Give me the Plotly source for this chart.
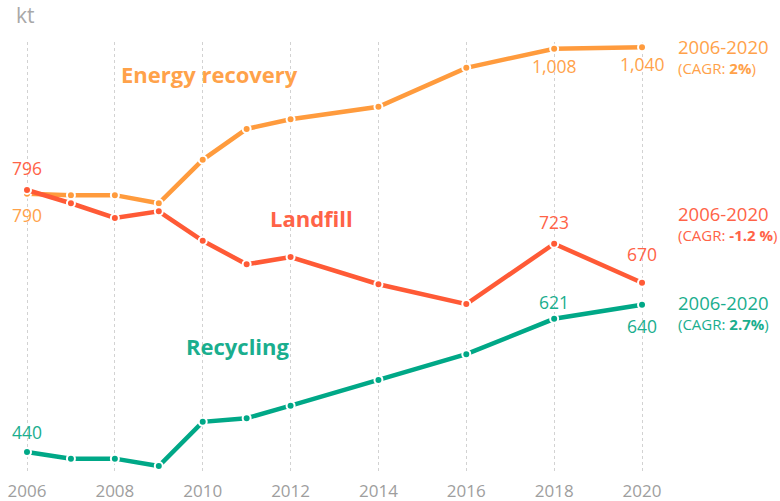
import plotly.graph_objects as go

years = [2006, 2007, 2008, 2009, 2010, 2011, 2012, 2014, 2016, 2018, 2020]
energy_recovery = [791, 789, 789, 778, 837, 879, 892, 909, 962, 988, 990]
landfill = [796, 778, 758, 767, 727, 695, 705, 668, 641, 723, 670]
recycling = [440, 431, 431, 421, 481, 486, 503, 538, 573, 621, 640]

series_names = ["Energy recovery", "Landfill", "Recycling"]
period = "2006-2020"
cagr = ["2%", "-1.2 %", "2.7%"]
point_labels = {
    "Energy recovery": {2006: "790", 2018: "1,008", 2020: "1,040"},
    "Landfill": {2006: "796", 2018: "723", 2020: "670"},
    "Recycling": {2006: "440", 2018: "621", 2020: "640"},
}
unit_label = "kt"
tick_years = [2006, 2008, 2010, 2012, 2014, 2016, 2018, 2020]

FONT = "Open Sans"
colors = {"Energy recovery": "#FF9B3D", "Landfill": "#FF5A36", "Recycling": "#00A887"}
text_colors = {"Energy recovery": "#FFA24A", "Landfill": "#FF6347", "Recycling": "#1AAE8E"}

W, H = 780, 501
ML, MR, MT, MB = 10, 120, 42, 29
PW, PH = W - ML - MR, H - MT - MB


def pxx(x):
    return (x - ML) / PW


def pxy(y):
    return (H - MB - y) / PH


fig = go.Figure()
data = {"Energy recovery": energy_recovery, "Landfill": landfill, "Recycling": recycling}
for name in series_names:
    fig.add_trace(go.Scatter(
        x=years, y=data[name], mode="lines+markers", name=name,
        line=dict(color=colors[name], width=4.5),
        marker=dict(size=8, color=colors[name], line=dict(color="white", width=2)),
        cliponaxis=False, hoverinfo="skip",
    ))

# per-point value labels: pixel offsets (style only)
label_shift = {
    ("Energy recovery", 2006): (0, -21), ("Energy recovery", 2018): (0, -17), ("Energy recovery", 2020): (0, -17),
    ("Landfill", 2006): (0, 22), ("Landfill", 2018): (0, 22), ("Landfill", 2020): (0, 29),
    ("Recycling", 2006): (0, 20), ("Recycling", 2018): (0, 17), ("Recycling", 2020): (0, -21),
}
for name in series_names:
    for yr, txt in point_labels[name].items():
        xs, ys = label_shift[(name, yr)]
        fig.add_annotation(x=yr, y=data[name][years.index(yr)], xref="x", yref="y",
                           text=txt, showarrow=False, xshift=xs, yshift=ys,
                           xanchor="center", yanchor="middle",
                           font=dict(family=FONT, size=17.5, color=text_colors[name]))

# series titles
title_pos = {"Energy recovery": (209, 74), "Landfill": (311, 218), "Recycling": (238, 346)}
for name in series_names:
    x, y = title_pos[name]
    fig.add_annotation(x=pxx(x), y=pxy(y), xref="paper", yref="paper", text=f"<b>{name}</b>",
                       showarrow=False, xanchor="center", yanchor="middle",
                       font=dict(family=FONT, size=22, color=text_colors[name]))

# CAGR annotations (two-line block)
cagr_pos = {"Energy recovery": 56, "Landfill": 223, "Recycling": 312}
for name, c in zip(series_names, cagr):
    fig.add_annotation(x=pxx(676), y=pxy(cagr_pos[name]), xref="paper", yref="paper",
                       text=f"<span style='font-size:18.5px'>{period}</span><br>(CAGR: <b>{c}</b>)",
                       showarrow=False, xanchor="left", yanchor="middle", align="left",
                       font=dict(family=FONT, size=15, color=text_colors[name]))

fig.add_annotation(x=pxx(14), y=pxy(15), xref="paper", yref="paper", text=unit_label,
                   showarrow=False, xanchor="left", yanchor="middle",
                   font=dict(family=FONT, size=21, color="#A8A8A8"))

x0 = 2006 - (27 - ML) / 43.93
x1 = 2006 + (ML + PW - 27) / 43.93
y_top = 796 + (190 - MT) / 0.736
y_bot = 796 - (H - MB - 190) / 0.736

fig.update_layout(
    width=W, height=H, margin=dict(l=ML, r=MR, t=MT, b=MB),
    paper_bgcolor="white", plot_bgcolor="white", showlegend=False,
    font=dict(family=FONT),
    xaxis=dict(range=[x0, x1], tickvals=tick_years, ticktext=[str(t) for t in tick_years],
               showgrid=True, gridcolor="#D2D2D2", griddash="dot", gridwidth=1,
               zeroline=False, showline=False, ticks="", automargin=False,
               tickfont=dict(family=FONT, size=17, color="#9E9E9E"), ticklabelstandoff=7),
    yaxis=dict(range=[y_bot, y_top], showgrid=False, zeroline=False, showticklabels=False,
               showline=False, ticks="", automargin=False),
)

fig.write_html("out.html", post_script="document.body.style.margin='0px';",
               config={"displayModeBar": False})
